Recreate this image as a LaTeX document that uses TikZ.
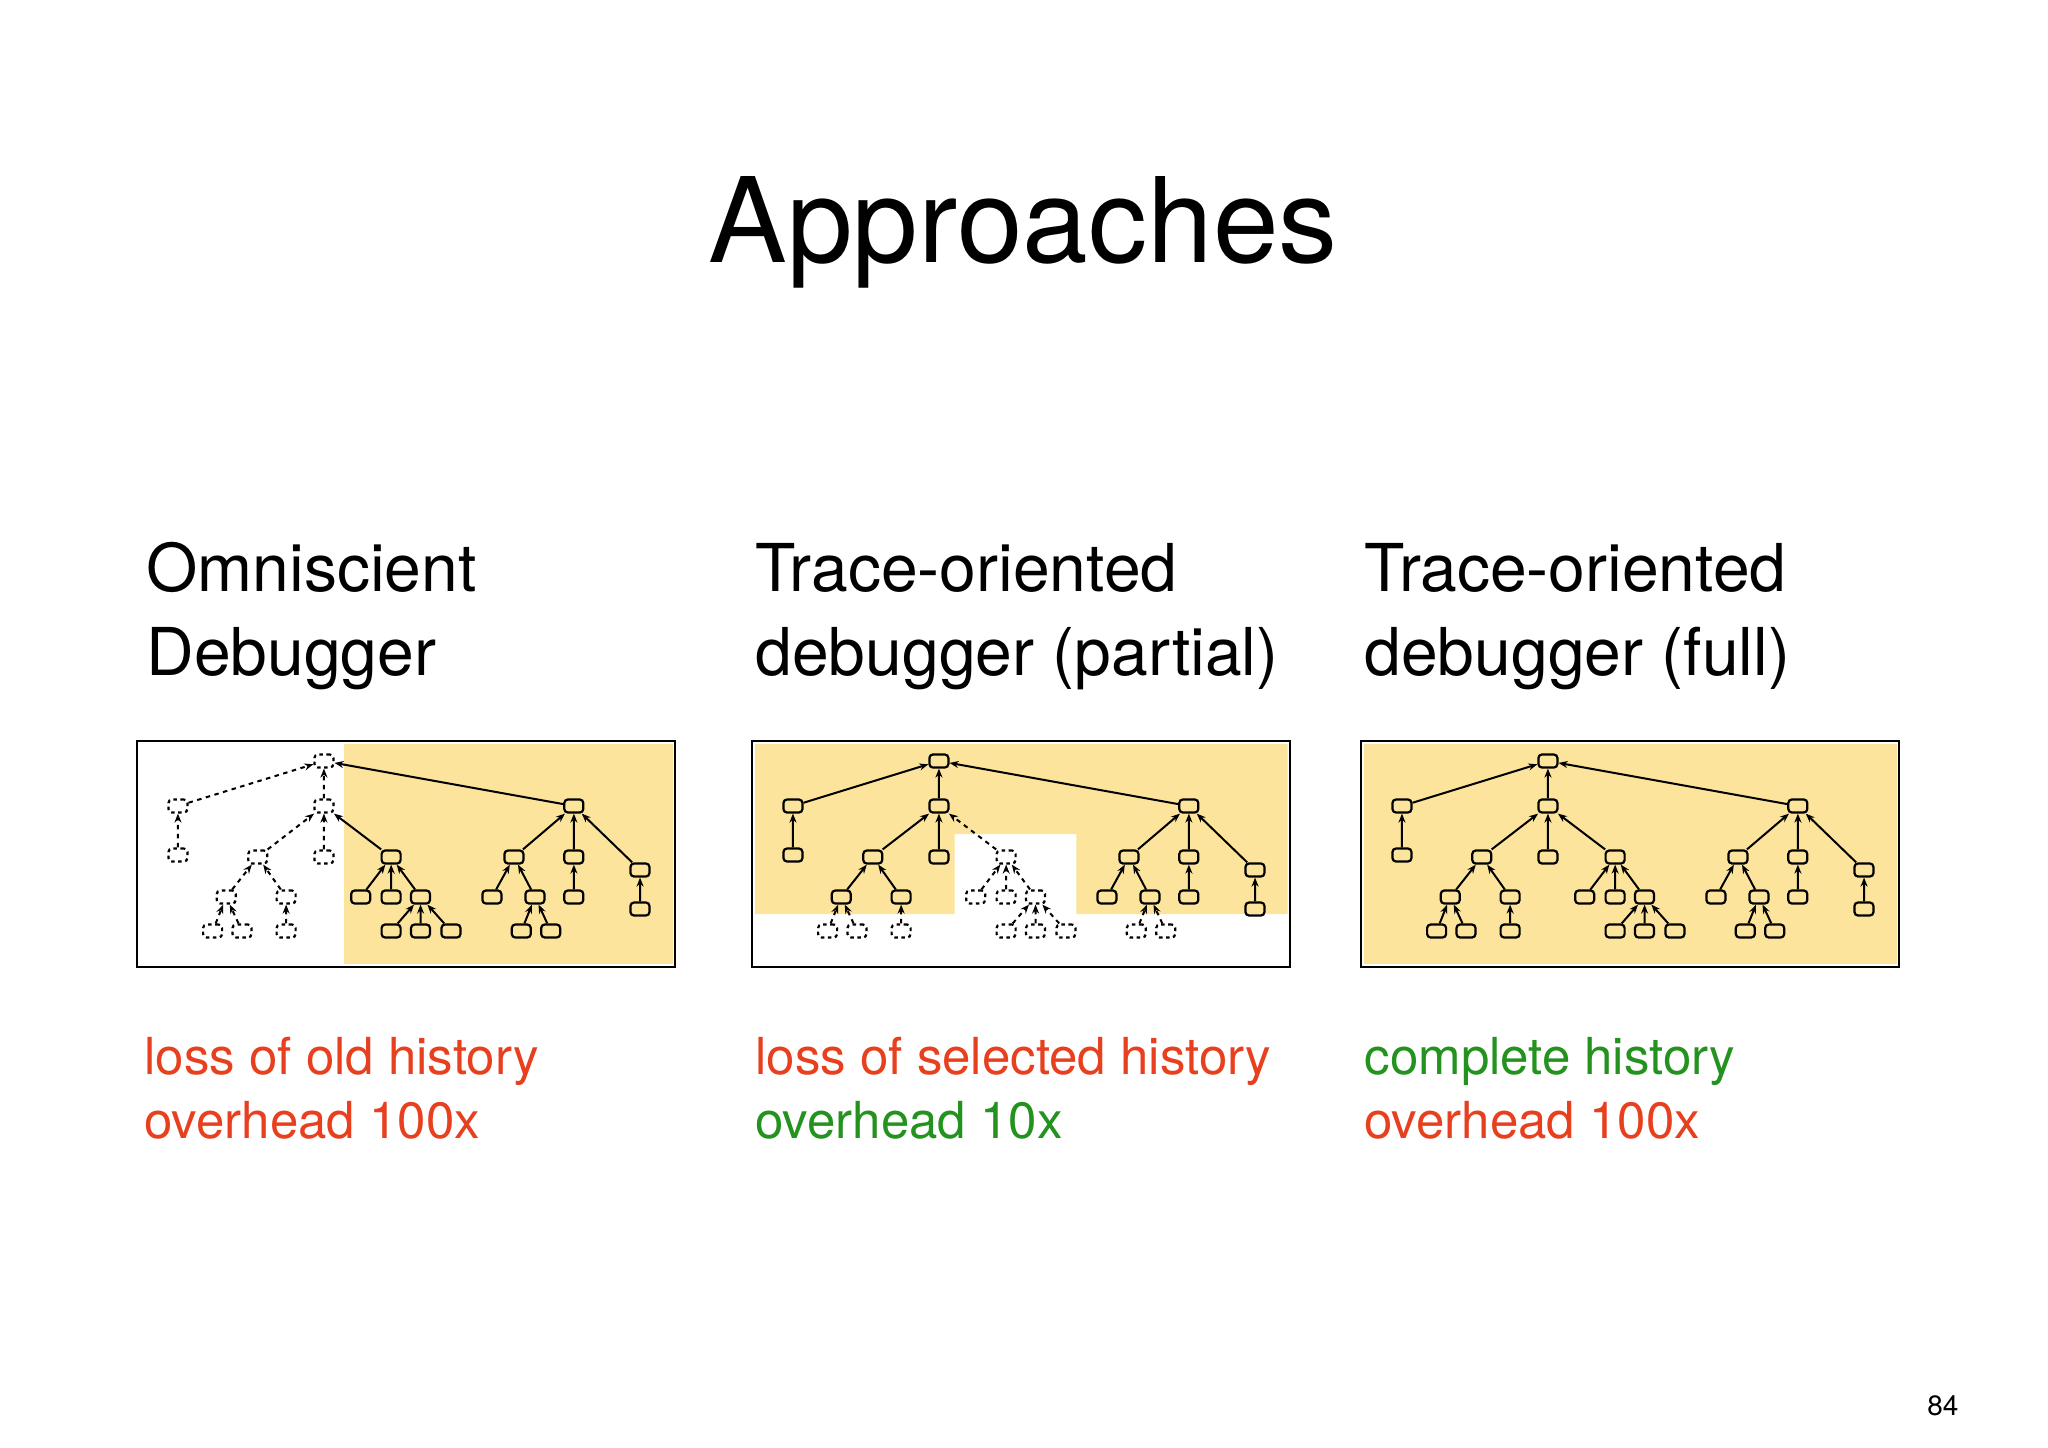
\documentclass[tikz,border=0pt]{standalone}
\usepackage{fontspec}
\setmainfont{TeX Gyre Heros}
\usetikzlibrary{arrows.meta}
\definecolor{ylw}{HTML}{FCE49C}
\definecolor{txtred}{HTML}{E8401E}
\definecolor{txtgreen}{HTML}{24921E}
\tikzset{
  snode/.style={draw,line width=2.2pt,rounded corners=3.5pt,minimum width=19pt,minimum height=13pt,inner sep=0pt},
  dnode/.style={snode,dashed,dash pattern=on 3.5pt off 3.5pt},
  sedge/.style={line width=2pt,-{Stealth[length=9pt,width=7pt]}},
  dedge/.style={sedge,dash pattern=on 4.5pt off 4.5pt},
  frame/.style={draw,line width=2pt},
  ttl/.style={anchor=base west,font=\fontsize{66}{84}\selectfont,align=left},
  note/.style={anchor=base west,font=\fontsize{51}{64}\selectfont},
  n/R/.style=snode,n/A/.style=snode,n/B/.style=snode,n/C/.style=snode,n/Aa/.style=snode,n/D/.style=snode,
  n/E/.style=snode,n/F/.style=snode,n/G/.style=snode,n/H/.style=snode,n/G1/.style=snode,n/G2/.style=snode,
  n/H1/.style=snode,n/F1/.style=snode,n/F2/.style=snode,n/I/.style=snode,n/I1/.style=snode,n/I2/.style=snode,
  n/I3/.style=snode,n/J/.style=snode,n/K/.style=snode,n/L/.style=snode,n/J1/.style=snode,n/M/.style=snode,
  n/M1/.style=snode,n/M2/.style=snode,n/K1/.style=snode,n/L1/.style=snode,
  e/A/.style=sedge,e/B/.style=sedge,e/C/.style=sedge,e/Aa/.style=sedge,e/D/.style=sedge,
  e/E/.style=sedge,e/F/.style=sedge,e/G/.style=sedge,e/H/.style=sedge,e/G1/.style=sedge,e/G2/.style=sedge,
  e/H1/.style=sedge,e/F1/.style=sedge,e/F2/.style=sedge,e/I/.style=sedge,e/I1/.style=sedge,e/I2/.style=sedge,
  e/I3/.style=sedge,e/J/.style=sedge,e/K/.style=sedge,e/L/.style=sedge,e/J1/.style=sedge,e/M/.style=sedge,
  e/M1/.style=sedge,e/M2/.style=sedge,e/K1/.style=sedge,e/L1/.style=sedge
}
\newcommand\drawtree[1]{%
  \foreach \n/\x/\y in {R/178/20,A/39/65,B/178/65,C/416/65,Aa/39/114,D/115/116,E/178/116,F/242/116,
    G/85/156,H/142/156,G1/72/190,G2/100/190,H1/142/190,F1/213/156,F2/242/156,I/270/156,
    I1/242/190,I2/270/190,I3/299/190,J/359/116,K/416/116,L/479/129,J1/338/156,M/379/156,
    M1/366/190,M2/394/190,K1/416/156,L1/479/168}{
    \node[n/\n] (#1\n) at (\x,\y) {};
  }
  \foreach \c/\p in {A/R,B/R,C/R,Aa/A,D/B,E/B,F/B,G/D,H/D,G1/G,G2/G,H1/H,F1/F,F2/F,I/F,
    I1/I,I2/I,I3/I,J/C,K/C,L/C,J1/J,M/J,M1/M,M2/M,K1/K,L1/L}{
    \draw[e/\c] (#1\c) -- (#1\p);
  }
}
\begin{document}
\begin{tikzpicture}[x=1pt,y=-1pt]
\useasboundingbox (0,0) rectangle (2048,1448);
\fill[white] (0,0) rectangle (2048,1448);
\node[anchor=base,font=\fontsize{118}{130}\selectfont] (title) at (1023,262) {Approaches};
\node[ttl] (t1) at (143,675) {Omniscient\\Debugger};
\node[ttl] (t2) at (752,675) {Trace-oriented\\debugger (partial)};
\node[ttl] (t3) at (1361,675) {Trace-oriented\\debugger (full)};
% panel 1
\begin{scope}[shift={(137,741)},xscale=1.05,
  n/R/.style=dnode,n/A/.style=dnode,n/Aa/.style=dnode,n/B/.style=dnode,n/E/.style=dnode,
  n/D/.style=dnode,n/G/.style=dnode,n/H/.style=dnode,n/G1/.style=dnode,n/G2/.style=dnode,n/H1/.style=dnode,
  e/A/.style=dedge,e/Aa/.style=dedge,e/B/.style=dedge,e/E/.style=dedge,e/D/.style=dedge,
  e/G/.style=dedge,e/H/.style=dedge,e/G1/.style=dedge,e/G2/.style=dedge,e/H1/.style=dedge]
  \fill[ylw] (197,3) rectangle (510,223);
  \draw[frame] (0,0) rectangle (512,226);
  \drawtree{a}
\end{scope}
% panel 2
\begin{scope}[shift={(752,741)},xscale=1.05,
  n/F/.style=dnode,n/F1/.style=dnode,n/F2/.style=dnode,n/I/.style=dnode,n/I1/.style=dnode,n/I2/.style=dnode,n/I3/.style=dnode,
  n/G1/.style=dnode,n/G2/.style=dnode,n/H1/.style=dnode,n/M1/.style=dnode,n/M2/.style=dnode,
  e/F/.style=dedge,e/F1/.style=dedge,e/F2/.style=dedge,e/I/.style=dedge,e/I1/.style=dedge,e/I2/.style=dedge,e/I3/.style=dedge,
  e/G1/.style=dedge,e/G2/.style=dedge,e/H1/.style=dedge,e/M1/.style=dedge,e/M2/.style=dedge]
  \fill[ylw] (3,3) -- (510,3) -- (510,173) -- (309,173) -- (309,93) -- (193,93) -- (193,173) -- (3,173) -- cycle;
  \draw[frame] (0,0) rectangle (512,226);
  \drawtree{b}
\end{scope}
% panel 3
\begin{scope}[shift={(1361,741)},xscale=1.05]
  \fill[ylw] (3,3) rectangle (510,223);
  \draw[frame] (0,0) rectangle (512,226);
  \drawtree{c}
\end{scope}
\node[note,text=txtred] (a1) at (141,1074) {loss of old history};
\node[note,text=txtred] (a2) at (141,1138) {overhead 100x};
\node[note,text=txtred] (b1) at (752,1074) {loss of selected history};
\node[note,text=txtgreen] (b2) at (752,1138) {overhead 10x};
\node[note,text=txtgreen] (c1) at (1361,1074) {complete history};
\node[note,text=txtred] (c2) at (1361,1138) {overhead 100x};
\node[anchor=base east,font=\fontsize{28}{32}\selectfont] (pg) at (1962,1415) {84};
\end{tikzpicture}
\end{document}
